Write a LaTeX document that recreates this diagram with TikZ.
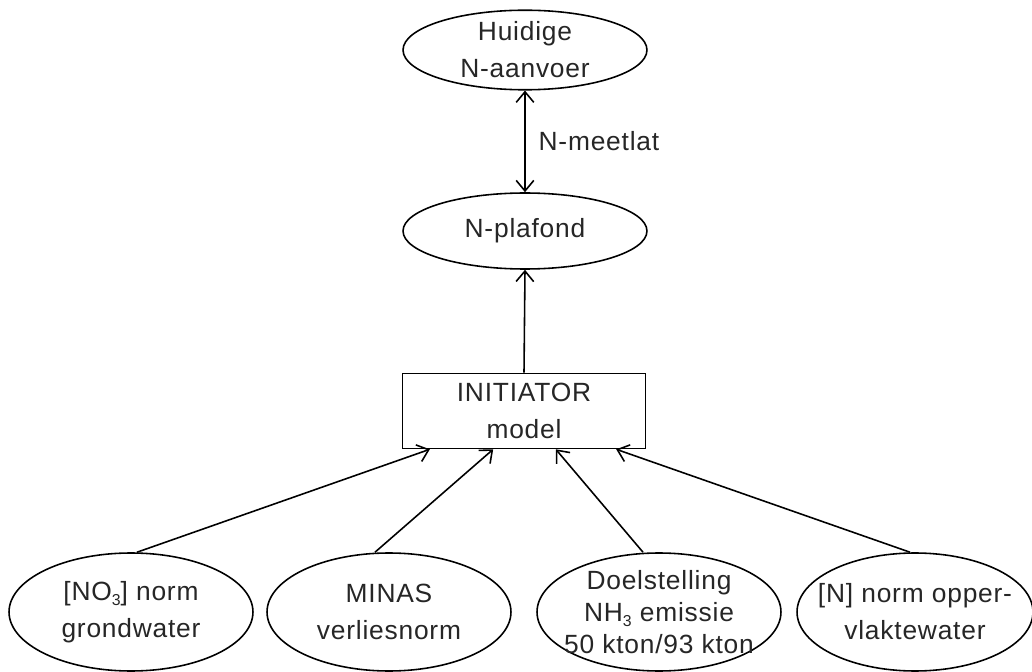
\documentclass[tikz,border=0pt]{standalone}
\usepackage{fontspec}
\setmainfont[LetterSpace=3]{Liberation Sans}
\usetikzlibrary{shapes.geometric,arrows.meta,calc}
\newcommand{\lowsub}[1]{\raisebox{-0.35ex}{\fontsize{9}{9}\selectfont #1}}
\begin{document}
\begin{tikzpicture}[x=0.02cm,y=-0.02cm,
  every node/.style={font=\fontsize{15}{21}\selectfont, text=black!85},
  oval/.style={ellipse, draw, line width=0.9pt, inner sep=0pt, align=center, minimum width=4.88cm, minimum height=1.52cm},
  boval/.style={oval, minimum height=2.36cm},
  pbox/.style={rectangle, draw, line width=0.9pt, align=center, minimum width=4.86cm, minimum height=1.5cm},
  txt/.style={align=center, inner sep=0pt},
  conn/.style={line width=0.9pt, -{Straight Barb[length=6pt,width=10pt]}},
  biconn/.style={line width=0.9pt, {Straight Barb[length=6pt,width=10pt]}-{Straight Barb[length=6pt,width=10pt]}}]
\useasboundingbox (0,0) rectangle (1032,672);
\node[oval] (top) at (525,50) {Huidige\\N-aanvoer};
\node[oval] (plaf) at (525,231) {N-plafond};
\node[pbox] (box) at (524,411) {INITIATOR\\model};
\node[boval] (e1) at (131,612) {};
\node[txt] (e1t) at (e1.center) {[NO\lowsub{3}] norm\\grondwater};
\node[boval] (e2) at (389,612) {MINAS\\verliesnorm};
\node[boval] (e3) at (659,612) {};
\node[txt, font=\fontsize{15}{18}\selectfont] (e3t) at (e3.center) {Doelstelling\\NH\lowsub{3} emissie\\50 kton/93 kton};
\node[boval, minimum width=4.72cm] (e4) at (915,612) {};
\node[txt] (e4t) at (e4.center) {[N] norm opper-\\vlaktewater};
\draw[biconn] (top.south) -- node[right, xshift=4pt] (lbl) {N-meetlat} (plaf.north);
\draw[conn] (box.north) -- (plaf.south);
\draw[conn] ($(e1.north)+(6,0)$) -- ($(box.south west)!0.115!(box.south east)$);
\draw[conn] ($(e2.north)+(-14,0)$) -- ($(box.south west)!0.374!(box.south east)$);
\draw[conn] ($(e3.north)+(-16,0)$) -- ($(box.south west)!0.630!(box.south east)$);
\draw[conn] ($(e4.north)+(-5,0)$) -- ($(box.south west)!0.877!(box.south east)$);
\end{tikzpicture}
\end{document}
